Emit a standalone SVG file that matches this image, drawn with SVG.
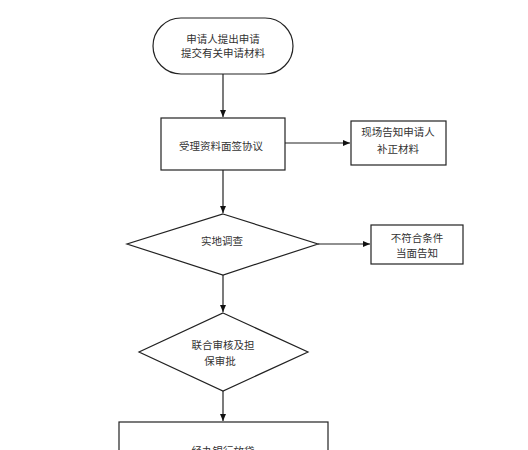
<svg xmlns="http://www.w3.org/2000/svg" width="528" height="450" viewBox="0 0 528 450">
<style>
.s{fill:#fff;stroke:#222;stroke-width:1.2}
.t{font-family:"Noto Sans CJK SC","Liberation Sans",sans-serif;font-size:10.5px;fill:#333;text-anchor:middle}
.c{stroke:#222;stroke-width:1.2;fill:none}
</style>
<defs>
<marker id="a" markerWidth="8" markerHeight="8" refX="7" refY="4" orient="auto" markerUnits="userSpaceOnUse">
<path d="M0,1 L7,4 L0,7 Z" fill="#111"/>
</marker>
</defs>
<rect width="528" height="450" fill="#fff"/>
<g id="connectors">
<line class="c" x1="223" y1="74" x2="223" y2="117" marker-end="url(#a)"/>
<line class="c" x1="285" y1="143" x2="350" y2="143" marker-end="url(#a)"/>
<line class="c" x1="223" y1="170" x2="223" y2="213" marker-end="url(#a)"/>
<line class="c" x1="318" y1="244" x2="370" y2="244" marker-end="url(#a)"/>
<line class="c" x1="223" y1="275" x2="223" y2="312" marker-end="url(#a)"/>
<line class="c" x1="223" y1="391" x2="223" y2="421" marker-end="url(#a)"/>
</g>
<g id="start">
<rect class="s" x="153" y="18" width="140" height="56" rx="28" ry="28"/>
<text class="t" x="223" y="43">申请人提出申请</text>
<text class="t" x="223" y="57">提交有关申请材料</text>
</g>
<g id="accept">
<rect class="s" x="161" y="118" width="124" height="52"/>
<text class="t" x="221" y="150">受理资料面签协议</text>
</g>
<g id="notify">
<rect class="s" x="351" y="121" width="95" height="44"/>
<text class="t" x="398" y="136">现场告知申请人</text>
<text class="t" x="398" y="153">补正材料</text>
</g>
<g id="survey">
<polygon class="s" points="223,214 318,244 223,275 127,244"/>
<text class="t" x="222" y="245">实地调查</text>
</g>
<g id="reject">
<rect class="s" x="371" y="225" width="92" height="39"/>
<text class="t" x="417" y="242">不符合条件</text>
<text class="t" x="417" y="257">当面告知</text>
</g>
<g id="review">
<polygon class="s" points="223,313 308,352 223,391 139,352"/>
<text class="t" x="223" y="349">联合审核及担</text>
<text class="t" x="220" y="365">保审批</text>
</g>
<g id="loan">
<rect class="s" x="119" y="422" width="209" height="60"/>
<text class="t" x="223" y="455">经办银行放贷</text>
</g>
</svg>
